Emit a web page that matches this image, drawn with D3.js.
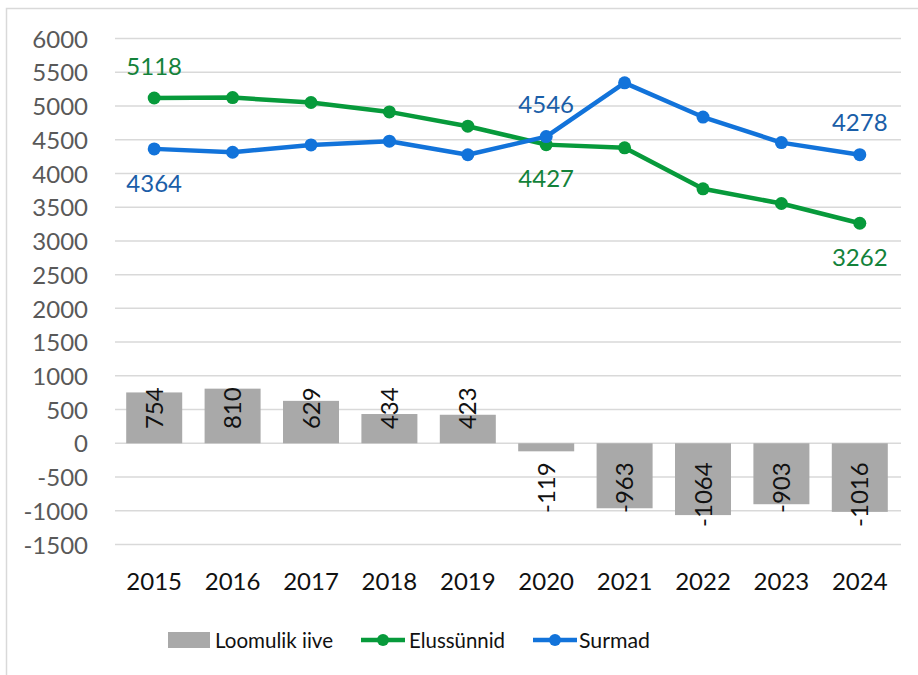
<!DOCTYPE html>
<html>
<head>
<meta charset="utf-8">
<script src="https://cdn.jsdelivr.net/npm/d3@7/dist/d3.min.js"></script>
<style>
  html, body { margin: 0; padding: 0; background: #fff; }
  svg { display: block; font-family: Lato, "Open Sans", sans-serif; }
</style>
</head>
<body>
<svg id="chart" width="918" height="675"></svg>
<script>
const years = ["2015","2016","2017","2018","2019","2020","2021","2022","2023","2024"];
const naturalGrowth = [754, 810, 629, 434, 423, -119, -963, -1064, -903, -1016];
const births = [5118, 5124, 5051, 4912, 4700, 4427, 4380, 3772, 3554, 3262];
const deaths = [4364, 4314, 4422, 4478, 4277, 4546, 5343, 4836, 4457, 4278];
const yTicks = [-1500, -1000, -500, 0, 500, 1000, 1500, 2000, 2500, 3000, 3500, 4000, 4500, 5000, 5500, 6000];
const seriesNames = ["Loomulik iive", "Elussünnid", "Surmad"];
// labelled points: [series, index, position]
const lineLabels = [
  ["births", 0, "above"], ["deaths", 0, "below"],
  ["deaths", 5, "above"], ["births", 5, "below"],
  ["deaths", 9, "above"], ["births", 9, "below"]
];

const svg = d3.select("#chart");
const W = 918, H = 675;
const plot = {left: 115, right: 899, top: 38.5, bottom: 544.5};

const colors = {bar: "#A9A9A9", births: "#079A3B", deaths: "#1273DA",
                birthsLabel: "#13823A", deathsLabel: "#1A5EA8"};

// chart border
svg.append("rect").attr("x", 6.5).attr("y", 8.5).attr("width", W + 10).attr("height", H + 10)
  .attr("fill", "none").attr("stroke", "#D9D9D9").attr("stroke-width", 1.5);

const x = d3.scaleBand().domain(years).range([plot.left, plot.right]).paddingInner(0.2857).paddingOuter(0.1429);
const xc = d => x(d) + x.bandwidth() / 2;
const y = d3.scaleLinear().domain([-1500, 6000]).range([plot.bottom, plot.top]);

// gridlines
svg.append("g").selectAll("line").data(yTicks).join("line")
  .attr("x1", plot.left).attr("x2", 901)
  .attr("y1", d => y(d)).attr("y2", d => y(d))
  .attr("stroke", "#D9D9D9").attr("stroke-width", 1.5);

// y axis labels
const yAxis = d3.axisLeft(y).tickValues(yTicks).tickFormat(d => String(d)).tickSize(0).tickPadding(0);
const yg = svg.append("g").attr("transform", `translate(88,0)`).call(yAxis);
yg.select(".domain").remove();
yg.selectAll("text").attr("font-size", 24).attr("fill", "#595959")
  .attr("font-family", "Lato, 'Open Sans', sans-serif").attr("dy", "0.36em");

// x axis labels
const xAxis = d3.axisBottom(x).tickSize(0).tickPadding(0);
const xg = svg.append("g").attr("transform", `translate(0,581)`).call(xAxis);
xg.select(".domain").remove();
xg.selectAll("text").attr("font-size", 24).attr("fill", "#111")
  .attr("font-family", "Lato, 'Open Sans', sans-serif").attr("dy", "0.36em");

// bars
const barW = x.bandwidth();
svg.append("g").selectAll("rect").data(naturalGrowth).join("rect")
  .attr("x", (d, i) => x(years[i]))
  .attr("width", barW)
  .attr("y", d => Math.min(y(d), y(0)))
  .attr("height", d => Math.abs(y(d) - y(0)))
  .attr("fill", colors.bar);

// bar labels (rotated)
svg.append("g").selectAll("text").data(naturalGrowth).join("text")
  .attr("transform", (d, i) => {
    const ty = d >= 0 ? y(0) - 56 : y(0) + 19;
    return `translate(${xc(years[i])},${ty}) rotate(-90)`;
  })
  .attr("text-anchor", "end")
  .attr("dy", "0.36em")
  .attr("font-size", 24).attr("fill", "#111")
  .text(d => String(d));

// lines
const lineGen = d3.line().x((d, i) => xc(years[i])).y(d => y(d));
function drawSeries(data, color) {
  svg.append("path").datum(data).attr("d", lineGen)
    .attr("fill", "none").attr("stroke", color).attr("stroke-width", 4.5)
    .attr("stroke-linejoin", "round");
  svg.append("g").selectAll("circle").data(data).join("circle")
    .attr("cx", (d, i) => xc(years[i])).attr("cy", d => y(d)).attr("r", 6.5)
    .attr("fill", color);
}
drawSeries(births, colors.births);
drawSeries(deaths, colors.deaths);

// line labels
const seriesData = {births, deaths};
svg.append("g").selectAll("text").data(lineLabels).join("text")
  .attr("x", d => xc(years[d[1]]))
  .attr("y", d => y(seriesData[d[0]][d[1]]) + (d[2] === "above" ? -32 : 34))
  .attr("dy", "0.36em")
  .attr("text-anchor", "middle")
  .attr("font-size", 24)
  .attr("fill", d => d[0] === "births" ? colors.birthsLabel : colors.deathsLabel)
  .text(d => seriesData[d[0]][d[1]]);

// legend
const lg = svg.append("g");
const ly = 640;
lg.append("rect").attr("x", 168).attr("y", ly - 8).attr("width", 42).attr("height", 16).attr("fill", colors.bar);
lg.append("text").attr("x", 215).attr("y", ly).attr("dy", "0.36em").attr("font-size", 22).attr("fill", "#111")
  .attr("textLength", 118).attr("lengthAdjust", "spacingAndGlyphs").text(seriesNames[0]);

lg.append("line").attr("x1", 361).attr("x2", 405).attr("y1", ly).attr("y2", ly).attr("stroke", colors.births).attr("stroke-width", 4.5);
lg.append("circle").attr("cx", 383).attr("cy", ly).attr("r", 6).attr("fill", colors.births);
lg.append("text").attr("x", 409).attr("y", ly).attr("dy", "0.36em").attr("font-size", 22).attr("fill", "#111")
  .attr("textLength", 96).attr("lengthAdjust", "spacingAndGlyphs").text(seriesNames[1]);

lg.append("line").attr("x1", 533).attr("x2", 577).attr("y1", ly).attr("y2", ly).attr("stroke", colors.deaths).attr("stroke-width", 4.5);
lg.append("circle").attr("cx", 555).attr("cy", ly).attr("r", 6).attr("fill", colors.deaths);
lg.append("text").attr("x", 579).attr("y", ly).attr("dy", "0.36em").attr("font-size", 22).attr("fill", "#111")
  .attr("textLength", 71).attr("lengthAdjust", "spacingAndGlyphs").text(seriesNames[2]);
</script>
</body>
</html>
